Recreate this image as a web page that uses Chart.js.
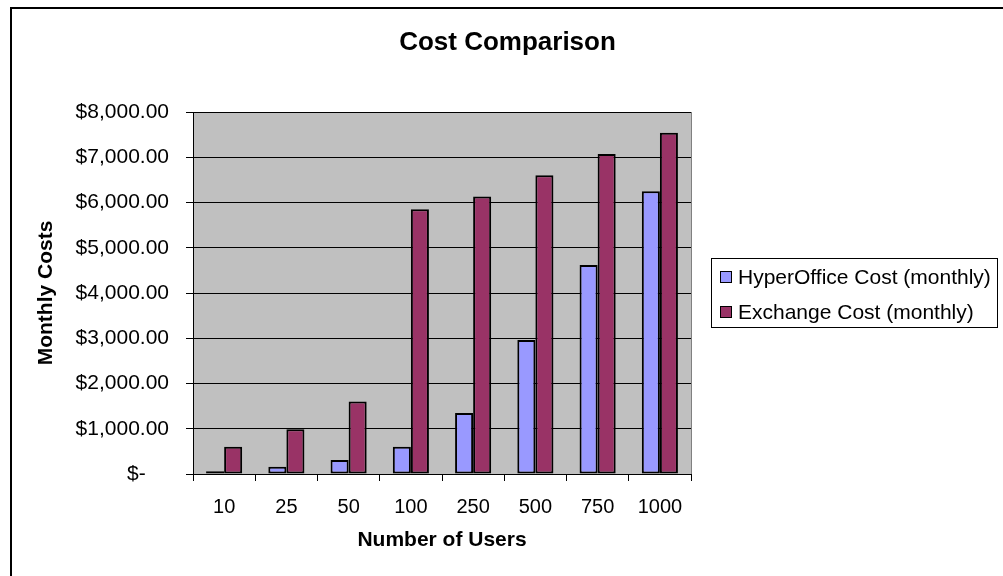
<!DOCTYPE html>
<html>
<head>
<meta charset="utf-8">
<script src="https://cdn.jsdelivr.net/npm/chart.js@4/dist/chart.umd.min.js"></script>
<style>
    body { margin: 0; background: #fff; }
    canvas { display: block; }
</style>
</head>
<body>
<canvas id="chart" width="1003" height="576"></canvas>
<script>
var users = ['10', '25', '50', '100', '250', '500', '750', '1000'];
var hyperOfficeCost = [60, 160, 310, 600, 1350, 2960, 4620, 6250];
var exchangeCost = [600, 990, 1600, 5850, 6130, 6600, 7070, 7540];
var seriesNames = ['HyperOffice Cost (monthly)', 'Exchange Cost (monthly)'];
var seriesColors = ['#9999FF', '#993366'];

var formatMoney = function(value) {
    if (value === 0) return '$-    ';
    return '$' + value.toLocaleString('en-US', {minimumFractionDigits: 2, maximumFractionDigits: 2});
};

// gray plot area + outer chart border
var frame = {
    id: 'frame',
    beforeDraw: function(chart) {
        var ctx = chart.ctx;
        var a = chart.chartArea;
        ctx.save();
        ctx.fillStyle = '#fff';
        ctx.fillRect(0, 0, chart.width, chart.height);
        ctx.lineWidth = 2;
        ctx.strokeStyle = '#000';
        ctx.strokeRect(11, 8, chart.width, chart.height);
        ctx.fillStyle = '#C0C0C0';
        ctx.fillRect(a.left, a.top, a.right - a.left, a.bottom - a.top);
        ctx.lineWidth = 1;
        ctx.strokeStyle = '#808080';
        ctx.strokeRect(a.left + 0.5, a.top + 0.5, a.right - a.left, a.bottom - a.top);
        ctx.restore();
    }
};

// legend box on the right, like the Excel one
var boxLegend = {
    id: 'boxLegend',
    afterDraw: function(chart) {
        var ctx = chart.ctx;
        ctx.save();
        ctx.fillStyle = '#fff';
        ctx.fillRect(711, 258, 286, 69);
        ctx.lineWidth = 1;
        ctx.strokeStyle = '#000';
        ctx.strokeRect(711.5, 258.5, 286, 69);
        ctx.font = '21px "Liberation Sans", Arial, sans-serif';
        ctx.textBaseline = 'middle';
        chart.data.datasets.forEach(function(ds, i) {
            var y = 277 + i * 35;
            ctx.fillStyle = ds.backgroundColor;
            ctx.fillRect(720, y - 6, 12, 12);
            ctx.strokeRect(720.5, y - 5.5, 11, 11);
            ctx.fillStyle = '#000';
            ctx.fillText(ds.label, 738, y + 1);
        });
        ctx.restore();
    }
};

Chart.defaults.color = '#000';
Chart.defaults.font.family = '"Liberation Sans", Arial, sans-serif';

new Chart(document.getElementById('chart'), {
    type: 'bar',
    data: {
        labels: users,
        datasets: [{
            label: seriesNames[0],
            data: hyperOfficeCost,
            backgroundColor: seriesColors[0],
            borderColor: '#000',
            borderWidth: 2,
            borderSkipped: false
        }, {
            label: seriesNames[1],
            data: exchangeCost,
            backgroundColor: seriesColors[1],
            borderColor: '#000',
            borderWidth: 2,
            borderSkipped: false
        }]
    },
    options: {
        responsive: false,
        animation: false,
        layout: { padding: { left: 12, top: 0, right: 0, bottom: 0 } },
        datasets: { bar: { categoryPercentage: 0.58, barPercentage: 1 } },
        plugins: {
            legend: { display: false },
            tooltip: { enabled: false },
            title: {
                display: true,
                text: 'Cost Comparison',
                font: { size: 26, weight: 'bold' },
                padding: { top: 27, bottom: 53.8 }
            }
        },
        scales: {
            x: {
                grid: { drawOnChartArea: false, color: '#000', tickLength: 7 },
                border: { color: '#000' },
                ticks: { font: { size: 20 }, padding: 14, maxRotation: 0 },
                title: {
                    display: true,
                    text: 'Number of Users',
                    font: { size: 21, weight: 'bold' },
                    padding: { top: 0, bottom: 23 }
                },
                afterFit: function(scale) { scale.height = 102; }
            },
            y: {
                min: 0,
                max: 8000,
                grid: { color: '#000', tickLength: 7 },
                border: { color: '#000' },
                ticks: { stepSize: 1000, font: { size: 21 }, padding: 17, callback: formatMoney },
                title: {
                    display: true,
                    text: 'Monthly Costs',
                    font: { size: 21, weight: 'bold' },
                    padding: { top: 22, bottom: 0 }
                },
                afterFit: function(scale) { scale.width = 181; }
            },
            // empty right axis, only reserves the room the legend sits in
            spacer: {
                position: 'right',
                grid: { display: false },
                border: { display: false },
                ticks: { display: false },
                afterFit: function(scale) { scale.width = 312; }
            }
        }
    },
    plugins: [frame, boxLegend]
});
</script>
</body>
</html>
